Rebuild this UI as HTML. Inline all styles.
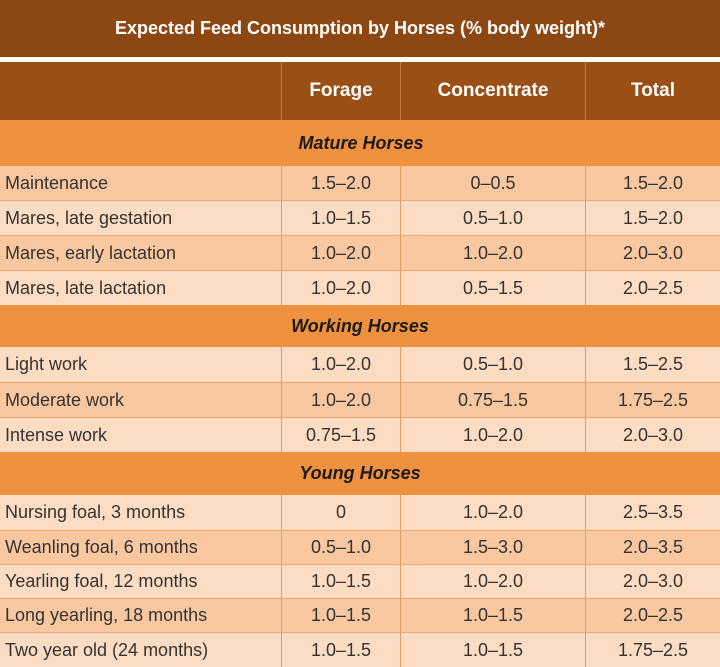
<!DOCTYPE html>
<html><head><meta charset="utf-8"><style>
body{margin:0;width:720px;height:667px;overflow:hidden;background:#fff;font-family:"Liberation Sans","DejaVu Sans",sans-serif}
.r{position:absolute;left:0;width:720px;display:flex;box-sizing:border-box}
.c{box-sizing:border-box;display:flex;align-items:center;justify-content:center;font-size:18px;color:#333;border-right:1px solid #e39a5e}
.c:first-child{justify-content:flex-start;padding-left:5px}
.c:last-child{border-right:none}
.w1{width:282px}.w2{width:119px}.w3{width:185px}.w4{width:134px}
.d{background:#f9c8a0}.l{background:#fcdcc2}
.s{background:#f0913f;justify-content:center;align-items:center;font-weight:bold;font-style:italic;font-size:18px;color:#1a1a1a;padding-left:0}
</style></head><body>
<div class="r" style="top:0;height:57px;background:#8c4712;color:#fff;font-weight:bold;font-size:18px;justify-content:center;align-items:center">Expected Feed Consumption by Horses (% body weight)*</div>
<div class="r" style="top:57px;height:5px;background:#fff"></div>
<div class="r" style="top:62px;height:58px;background:#9a5014;color:#fff;font-weight:bold">
<div class="c w1" style="border-right:1px solid #c77a3a"></div><div class="c w2" style="color:#fff;font-size:19px;border-right:1px solid #c77a3a">Forage</div><div class="c w3" style="color:#fff;font-size:19px;border-right:1px solid #c77a3a">Concentrate</div><div class="c w4" style="color:#fff;font-size:19px">Total</div></div>

<div class="r s" style="top:120px;height:46px;padding-left:0"><span style="margin-left:2px">Mature Horses</span></div>
<div class="r d" style="top:166px;height:34px"><div class="c w1">Maintenance</div><div class="c w2">1.5–2.0</div><div class="c w3">0–0.5</div><div class="c w4">1.5–2.0</div></div>
<div class="r l" style="top:200px;height:35px;border-top:1px solid #eaa874"><div class="c w1">Mares, late gestation</div><div class="c w2">1.0–1.5</div><div class="c w3">0.5–1.0</div><div class="c w4">1.5–2.0</div></div>
<div class="r d" style="top:235px;height:35px;border-top:1px solid #eaa874"><div class="c w1">Mares, early lactation</div><div class="c w2">1.0–2.0</div><div class="c w3">1.0–2.0</div><div class="c w4">2.0–3.0</div></div>
<div class="r l" style="top:270px;height:35px;border-top:1px solid #eaa874"><div class="c w1">Mares, late lactation</div><div class="c w2">1.0–2.0</div><div class="c w3">0.5–1.5</div><div class="c w4">2.0–2.5</div></div>

<div class="r s" style="top:305px;height:42px">Working Horses</div>
<div class="r l" style="top:347px;height:35px"><div class="c w1">Light work</div><div class="c w2">1.0–2.0</div><div class="c w3">0.5–1.0</div><div class="c w4">1.5–2.5</div></div>
<div class="r d" style="top:382px;height:35px;border-top:1px solid #eaa874"><div class="c w1">Moderate work</div><div class="c w2">1.0–2.0</div><div class="c w3">0.75–1.5</div><div class="c w4">1.75–2.5</div></div>
<div class="r l" style="top:417px;height:35px;border-top:1px solid #eaa874"><div class="c w1">Intense work</div><div class="c w2">0.75–1.5</div><div class="c w3">1.0–2.0</div><div class="c w4">2.0–3.0</div></div>

<div class="r s" style="top:452px;height:43px">Young Horses</div>
<div class="r l" style="top:495px;height:35px"><div class="c w1">Nursing foal, 3 months</div><div class="c w2">0</div><div class="c w3">1.0–2.0</div><div class="c w4">2.5–3.5</div></div>
<div class="r d" style="top:530px;height:34px;border-top:1px solid #eaa874"><div class="c w1">Weanling foal, 6 months</div><div class="c w2">0.5–1.0</div><div class="c w3">1.5–3.0</div><div class="c w4">2.0–3.5</div></div>
<div class="r l" style="top:564px;height:34px;border-top:1px solid #eaa874"><div class="c w1">Yearling foal, 12 months</div><div class="c w2">1.0–1.5</div><div class="c w3">1.0–2.0</div><div class="c w4">2.0–3.0</div></div>
<div class="r d" style="top:598px;height:34px;border-top:1px solid #eaa874"><div class="c w1">Long yearling, 18 months</div><div class="c w2">1.0–1.5</div><div class="c w3">1.0–1.5</div><div class="c w4">2.0–2.5</div></div>
<div class="r l" style="top:632px;height:35px;border-top:1px solid #eaa874"><div class="c w1">Two year old (24 months)</div><div class="c w2">1.0–1.5</div><div class="c w3">1.0–1.5</div><div class="c w4">1.75–2.5</div></div>
</body></html>
